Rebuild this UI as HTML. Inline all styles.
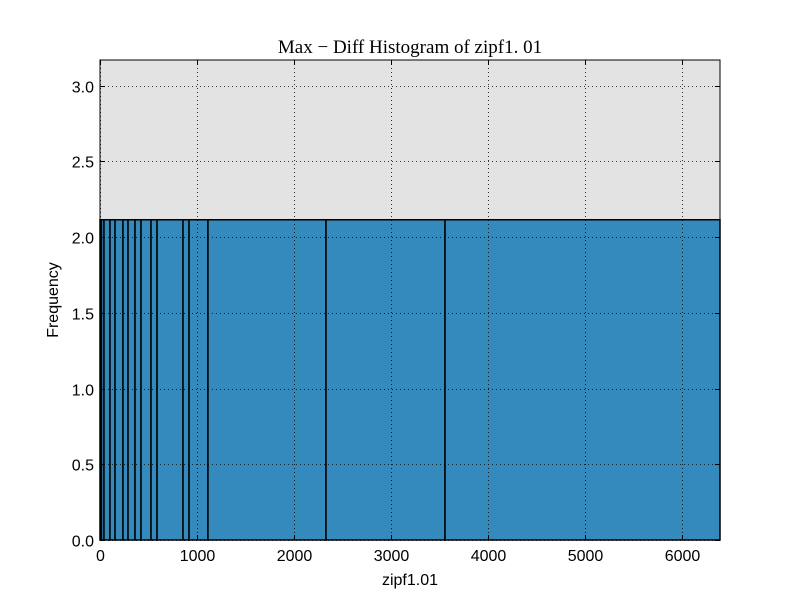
<!DOCTYPE html>
<html><head><meta charset="utf-8"><style>
body{margin:0;background:#fff;width:800px;height:600px;overflow:hidden}
svg{display:block}
text{font-family:"Liberation Sans",sans-serif;font-size:16px;fill:#000}
</style></head><body>
<svg id="chart" width="800" height="600" xmlns="http://www.w3.org/2000/svg">
<rect x="0" y="0" width="800" height="600" fill="#fff"/>
<rect x="100" y="60" width="620" height="480" fill="#e3e3e3"/>
<g id="bars"></g><g id="grid"></g><g id="ticks"></g>
<rect x="100" y="60" width="620" height="480" fill="none" stroke="#000" stroke-width="1"/>
<text x="410" y="53" text-anchor="middle" style="font-family:'Liberation Serif',serif;font-size:19px">Max − Diff Histogram of zipf1. 01</text>
<text x="410" y="585" text-anchor="middle">zipf1.01</text>
<text transform="translate(58,300) rotate(-90)" text-anchor="middle">Frequency</text>
</svg>
<script>
const binEdges=[0,15,41,103,155,237,289,361,423,526,588,856,918,1113,2330,3557,6392];
const binHeights=[2.115,2.115,2.115,2.115,2.115,2.115,2.115,2.115,2.115,2.115,2.115,2.115,2.115,2.115,2.115,2.115];
const xTicks=[0,1000,2000,3000,4000,5000,6000];
const yTicks=[0.0,0.5,1.0,1.5,2.0,2.5,3.0];
const xMin=0,xMax=6392,yMin=0,yMax=3.17;
const L=100,R=720,T=60,B=540;
const sx=v=>L+(v-xMin)/(xMax-xMin)*(R-L);
const sy=v=>B-(v-yMin)/(yMax-yMin)*(B-T);
const NS="http://www.w3.org/2000/svg";
function mk(tag,attrs,parent){const e=document.createElementNS(NS,tag);for(const k in attrs)e.setAttribute(k,attrs[k]);parent.appendChild(e);return e;}
const bars=document.getElementById('bars'),grid=document.getElementById('grid'),ticks=document.getElementById('ticks');
for(let i=0;i<binHeights.length;i++){
  const x0=sx(binEdges[i]),x1=sx(binEdges[i+1]),y=sy(binHeights[i]);
  const r=mk('rect',{x:x0,y:y,width:x1-x0,height:B-y,fill:'#348abd',stroke:'#000','stroke-width':1.5},bars);
  
  
}
xTicks.forEach(v=>{
  const x=Math.round(sx(v))+0.5;
  const g=mk('line',{x1:x,x2:x,y1:T,y2:B,stroke:'#000','stroke-dasharray':'1,3','stroke-width':0.8},grid);
  
  
  mk('line',{x1:x,x2:x,y1:B,y2:B-5,stroke:'#000'},ticks);
  mk('line',{x1:x,x2:x,y1:T,y2:T+5,stroke:'#000'},ticks);
  const t=mk('text',{x:x,y:B+21,'text-anchor':'middle'},ticks);
  t.textContent=v;
  
  
});
yTicks.forEach(v=>{
  const y=Math.round(sy(v))+0.5;
  const g=mk('line',{x1:L,x2:R,y1:y,y2:y,stroke:'#000','stroke-dasharray':'1,3','stroke-width':0.8},grid);
  
  
  mk('line',{x1:L,x2:L+5,y1:y,y2:y,stroke:'#000'},ticks);
  mk('line',{x1:R,x2:R-5,y1:y,y2:y,stroke:'#000'},ticks);
  const t=mk('text',{x:L-6,y:y+6,'text-anchor':'end'},ticks);
  t.textContent=v.toFixed(1);
  
  
});
</script>
</body></html>
